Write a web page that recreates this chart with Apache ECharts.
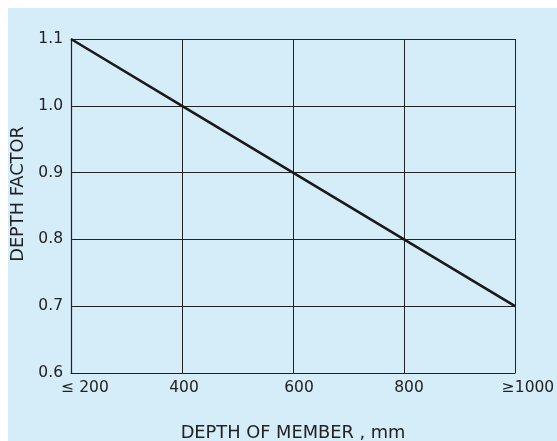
<!DOCTYPE html>
<html>
<head>
<meta charset="utf-8">
<script src="https://cdn.jsdelivr.net/npm/echarts@6/dist/echarts.min.js"></script>
<style>
html,body{margin:0;padding:0;background:#fff;}
#c{width:557px;height:441px;}
</style>
</head>
<body>
<div id="c"></div>
<script>
// Data
var depthMm = [200, 400, 600, 800, 1000];
var depthFactor = [1.1, 1.0, 0.9, 0.8, 0.7];
var xTickLabels = { 200: '≤ 200', 400: '400', 600: '600', 800: '800', 1000: '≥1000' };
var xAxisTitle = 'DEPTH OF MEMBER , mm';
var yAxisTitle = 'DEPTH FACTOR';

var chart = echarts.init(document.getElementById('c'), null, { renderer: 'canvas' });
var ink = '#222';
var font = 'DejaVu Sans';
var richKeys = { 200: 'a', 400: 'b', 600: 'c', 800: 'd', 1000: 'e' };

chart.setOption({
  backgroundColor: '#ffffff',
  animation: false,
  graphic: [{
    type: 'rect', z: -10, silent: true,
    shape: { x: 8, y: 8, width: 549, height: 433 },
    style: { fill: '#d5ecf9' }
  }],
  grid: { left: 71, top: 39, right: 42, bottom: 68, show: false, containLabel: false, outerBoundsMode: 'none' },
  xAxis: {
    type: 'value', min: 200, max: 1000, interval: 200,
    name: xAxisTitle, nameLocation: 'middle', nameGap: 51,
    nameTextStyle: { fontFamily: font, fontSize: 17.8, color: ink },
    axisLine: { show: true, lineStyle: { color: ink, width: 1.2 } },
    axisTick: { show: false },
    splitLine: { show: true, lineStyle: { color: ink, width: 1 } },
    axisLabel: {
      margin: 7, fontFamily: font, fontSize: 15.5, color: ink,
      formatter: function (v) { return '{' + richKeys[v] + '|' + xTickLabels[v] + '}'; },
      rich: {
        a: { fontFamily: font, fontSize: 15.5, color: ink, padding: [0, 0, 0, 28] },
        b: { fontFamily: font, fontSize: 15.5, color: ink, padding: [0, 0, 0, 4] },
        c: { fontFamily: font, fontSize: 15.5, color: ink, padding: [0, 0, 0, 12] },
        d: { fontFamily: font, fontSize: 15.5, color: ink, padding: [0, 0, 0, 10] },
        e: { fontFamily: font, fontSize: 15.5, color: ink, padding: [0, 0, 0, 26] }
      }
    }
  },
  yAxis: {
    type: 'value', min: 0.6, max: 1.1, interval: 0.1,
    name: yAxisTitle, nameLocation: 'middle', nameGap: 42, nameRotate: 90,
    nameTextStyle: { fontFamily: font, fontSize: 17.8, color: ink, padding: [0, 0, 0, 24] },
    axisLine: { show: true, lineStyle: { color: ink, width: 1.2 } },
    axisTick: { show: false },
    splitLine: { show: true, lineStyle: { color: ink, width: 1 } },
    axisLabel: {
      margin: 8, fontFamily: font, fontSize: 15.5, color: ink, padding: [0, 0, 6, 0],
      formatter: function (v) { return v.toFixed(1); }
    }
  },
  series: [{
    type: 'line',
    data: depthMm.map(function (x, i) { return [x, depthFactor[i]]; }),
    showSymbol: false,
    lineStyle: { color: '#1a1a1a', width: 2.6 },
    z: 5
  }]
});
</script>
</body>
</html>
